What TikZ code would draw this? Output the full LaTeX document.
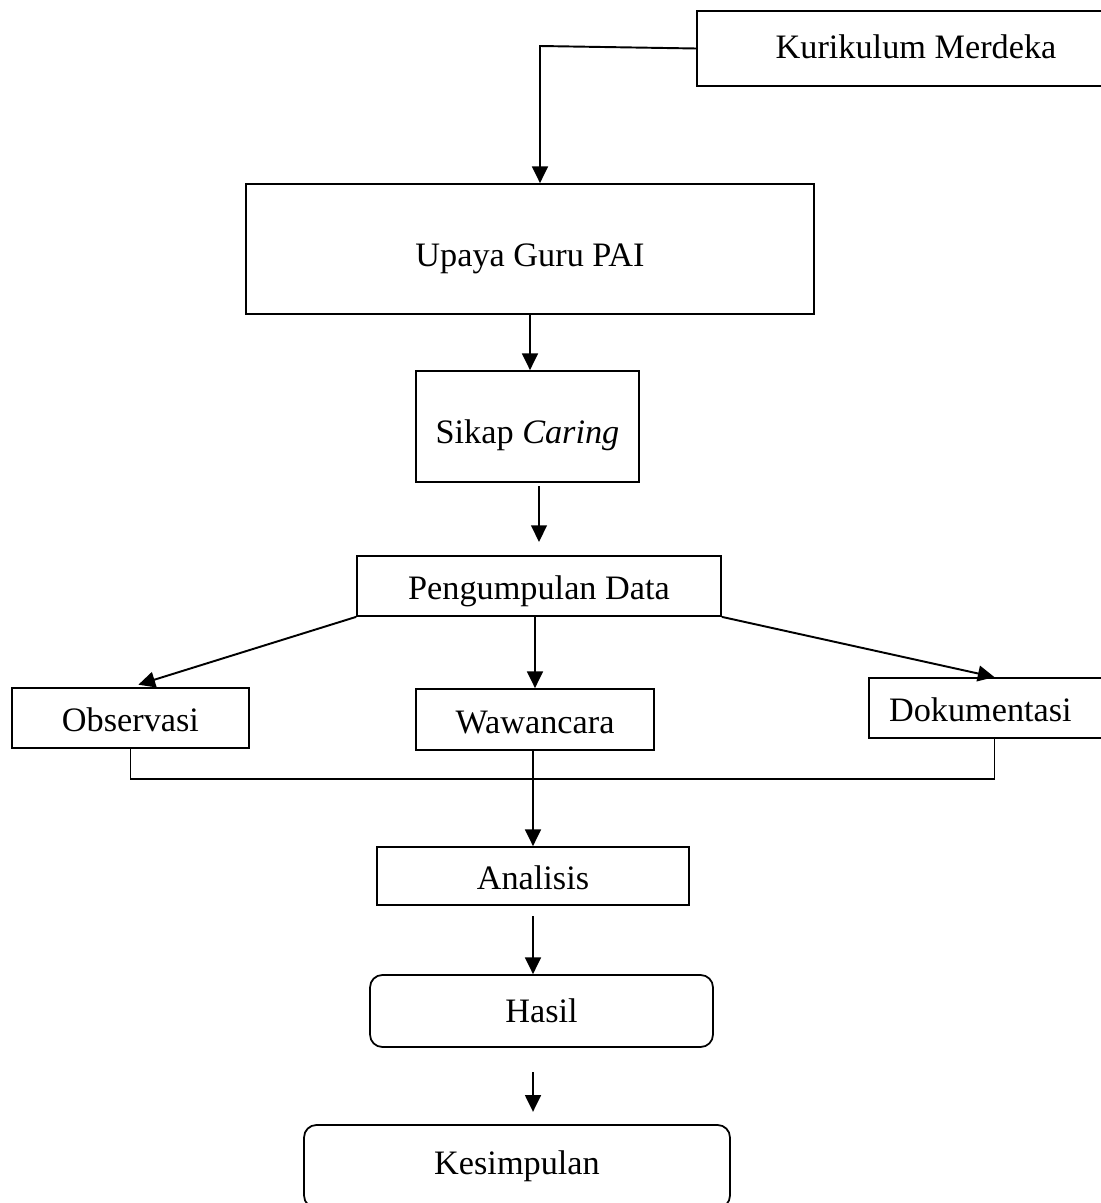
\documentclass[tikz,border=0pt]{standalone}
\usepackage{fontspec}
\setmainfont{Liberation Serif}
\usetikzlibrary{arrows.meta}

\begin{document}
\begin{tikzpicture}[x=0.02cm, y=-0.02cm,
  box/.style={draw, line width=1pt, rectangle, inner sep=0pt, text height=17pt, text depth=1.5pt, font=\fontsize{19.5}{23}\selectfont},
  rbox/.style={box, rounded corners=7pt},
  arr/.style={line width=1.1pt, -{Triangle[width=9pt,length=9.5pt]}}]
  \useasboundingbox (0,0) rectangle (1101,1203);
  % boxes
  \node[box, minimum width=8.76cm, minimum height=1.5cm, text height=12.4pt] (kur) at (916,48.5) {Kurikulum Merdeka};
  \node[box, minimum width=11.36cm, minimum height=2.6cm, text height=21.6pt] (upaya) at (530,249) {Upaya Guru PAI};
  \node[box, minimum width=4.46cm, minimum height=2.22cm, text height=20.4pt] (sikap) at (527.5,426.5) {Sikap \textit{Caring}};
  \node[box, minimum width=7.28cm, minimum height=1.2cm] (peng) at (539,586) {Pengumpulan Data};
  \node[box, minimum width=4.74cm, minimum height=1.2cm] (obs) at (130.5,718) {Observasi};
  \node[box, minimum width=4.76cm, minimum height=1.22cm] (waw) at (535,719.5) {Wawancara};
  \node[box, minimum height=1.2cm, inner xsep=0.4cm, text width=4.22cm, align=left] (doc) at (994.5,708) {Dokumentasi};
  \node[box, minimum width=6.24cm, minimum height=1.16cm] (ana) at (533,876) {Analisis};
  \node[rbox, minimum width=6.86cm, minimum height=1.44cm, text height=14.7pt] (hasil) at (541.5,1011) {Hasil};
  \node[rbox, minimum width=8.52cm, minimum height=1.66cm, text height=10.2pt] (kes) at (517,1166.5) {Kesimpulan};
  % connectors
  \coordinate (bend) at (540,46);
  \coordinate (bar) at (533,779);
  \draw[arr] (kur.west) -- (bend) -- (bend |- upaya.north);
  \draw[arr] (upaya.south) -- (upaya.south |- sikap.north);
  \draw[arr, shorten <=2pt, shorten >=7.5pt] (peng.north |- sikap.south) -- (peng.north);
  \draw[arr, shorten >=4.7pt] (peng.south west) -- (obs.north);
  \draw[arr] (waw.north |- peng.south) -- (waw.north);
  \draw[arr] (peng.south east) -- (doc.north);
  \draw[line width=1pt] (obs.south) |- (bar) -| (doc.south);
  \draw[arr] (ana.north |- waw.south) -- (ana.north);
  \draw[arr, shorten <=6pt] (ana.south) -- (ana.south |- hasil.north);
  \draw[arr, shorten <=14pt, shorten >=7pt] (ana.south |- hasil.south) -- (ana.south |- kes.north);
\end{tikzpicture}
\end{document}
